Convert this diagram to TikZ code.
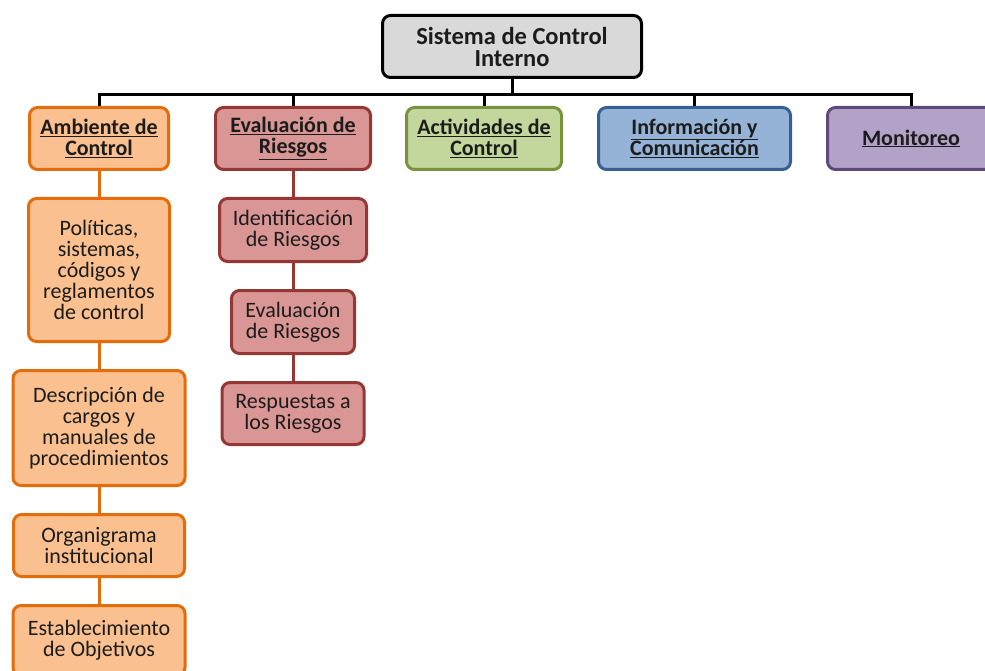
\documentclass[tikz,border=0pt]{standalone}
\usepackage{fontspec}
\setmainfont{Carlito}
\usetikzlibrary{positioning}
\definecolor{rootFill}{HTML}{D9D9D9}
\definecolor{ambFill}{HTML}{FAC090}
\definecolor{ambLine}{HTML}{E46C0A}
\definecolor{riskFill}{HTML}{D99694}
\definecolor{riskLine}{HTML}{953735}
\definecolor{actFill}{HTML}{C3D69B}
\definecolor{actLine}{HTML}{77933C}
\definecolor{infFill}{HTML}{95B3D7}
\definecolor{infLine}{HTML}{376092}
\definecolor{monFill}{HTML}{B3A2C7}
\definecolor{monLine}{HTML}{5F497A}
\definecolor{txt}{HTML}{1C1C1C}
\tikzset{
  node distance=26pt,
  box/.style={rounded corners=8pt, line width=3pt, align=center, inner sep=2pt,
              text=txt, font=\fontsize{22}{21}\selectfont},
  root/.style={box, draw=black, fill=rootFill, font=\fontsize{24.5}{22}\selectfont\bfseries,
               minimum width=259pt, minimum height=62pt},
  head/.style={font=\fontsize{22}{21}\selectfont\bfseries, minimum height=62pt},
  amb/.style={box, draw=ambLine, fill=ambFill},
  risk/.style={box, draw=riskLine, fill=riskFill},
  act/.style={box, draw=actLine, fill=actFill},
  inf/.style={box, draw=infLine, fill=infFill},
  mon/.style={box, draw=monLine, fill=monFill},
  bus/.style={line width=3pt, black},
  link/.style={line width=3pt},
}
\newcommand{\ulin}[1]{\underline{#1}}

\begin{document}
\begin{tikzpicture}[x=1pt, y=-1pt]
  \useasboundingbox (0,0) rectangle (985,671);
  % raiz
  \node[root] (sci) at (512,46.5) {Sistema de Control\\Interno};
  \coordinate (bus) at (512,95);
  % componentes
  \node[amb, head, minimum width=139pt] (amb) at (99,138.5) {\ulin{Ambiente de}\\\ulin{Control}};
  \node[risk, head, minimum width=155pt] (eva) at (293,138.5) {\ulin{Evaluación de}\\\ulin{Riesgos}};
  \node[act, head, minimum width=155pt] (act) at (484,138.5) {\ulin{Actividades de}\\\ulin{Control}};
  \node[inf, head, minimum width=192pt] (inf) at (694.5,138.5) {\ulin{Información y}\\\ulin{Comunicación}};
  \node[mon, head, minimum width=167pt] (mon) at (911,138.5) {\ulin{Monitoreo}};
  % ambiente de control
  \node[amb, minimum width=141pt, minimum height=143pt, below=of amb] (pol)
    {Políticas,\\sistemas,\\códigos y\\reglamentos\\de control};
  \node[amb, minimum width=172pt, minimum height=115pt, below=of pol] (des)
    {Descripción de\\cargos y\\manuales de\\procedimientos};
  \node[amb, minimum width=171pt, minimum height=62pt, below=of des] (org)
    {Organigrama\\institucional};
  \node[amb, minimum width=172pt, minimum height=70pt, below=of org] (est)
    {Establecimiento\\de Objetivos};
  % evaluacion de riesgos
  \node[risk, minimum width=147pt, minimum height=63pt, below=of eva] (ide)
    {Identificación\\de Riesgos};
  \node[risk, minimum width=123pt, minimum height=63pt, below=of ide] (evr)
    {Evaluación\\de Riesgos};
  \node[risk, minimum width=142pt, minimum height=62pt, below=of evr] (res)
    {Respuestas a\\los Riesgos};

  \draw[bus] (sci) -- (bus);
  \foreach \n in {amb,eva,act,inf,mon}
    \draw[bus] (bus) -| (\n.north);
  \draw[link, ambLine] (amb) -- (pol);
  \draw[link, ambLine] (pol) -- (des);
  \draw[link, ambLine] (des) -- (org);
  \draw[link, ambLine] (org) -- (est);
  \draw[link, riskLine] (eva) -- (ide);
  \draw[link, riskLine] (ide) -- (evr);
  \draw[link, riskLine] (evr) -- (res);
\end{tikzpicture}
\end{document}
